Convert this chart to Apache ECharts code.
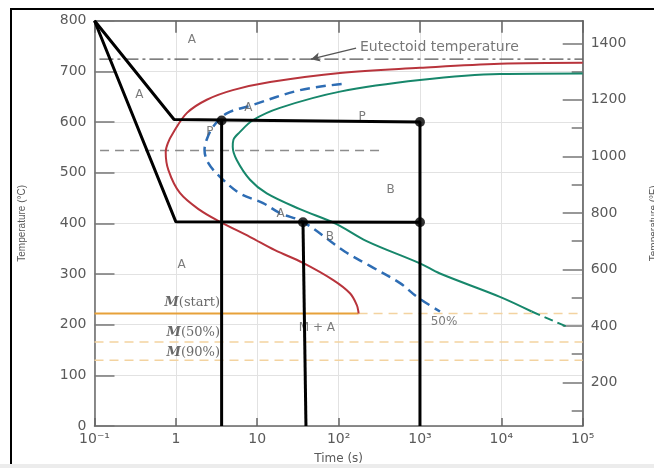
<!DOCTYPE html>
<html><head><meta charset="utf-8">
<script src="https://cdn.jsdelivr.net/npm/echarts@6/dist/echarts.min.js"></script>
<style>html,body{margin:0;padding:0;background:#fff}#c{width:654px;height:468px}</style>
</head><body><div id="c"></div>
<script>
// ---- data (time in s, temperature in °C unless noted) ----
const timeTicks = [0.1, 1, 10, 100, 1000, 10000, 100000];
const tempTicksC = [0, 100, 200, 300, 400, 500, 600, 700, 800];
const tempTicksF = [200, 400, 600, 800, 1000, 1200, 1400];
const tempMinorF = [100, 300, 500, 700, 900, 1100, 1300];

// start of transformation (red)
const startCurve = [[100000,717],[9600,715],[1000,707],[104,697],[14.4,679],[5.0,663],[2.4,644],[1.37,618],[0.92,578],[0.80,559],[0.75,541],[0.81,505],[1.12,460],[1.98,426],[3.5,403],[8.2,373],[16.5,347],[36.5,322],[86,288],[138,262],[167,239],[175,226],[176,222]];
// end of transformation (green)
const finishCurve = [[100000,696],[9600,695],[1000,683],[104,660],[19,628],[8.9,604],[6.1,580],[5.1,565],[5.0,551],[5.6,525],[8.15,486],[13.1,459],[33.5,428],[93,399],[221,365],[1000,321],[1760,301],[9600,255],[23600,226]];
const finishCurveExtrap = [[23600,226],[61800,197]];
// 50% completion (blue dashed)
const halfCurve = [[109,675],[33.6,663],[8.15,632],[4.22,617],[2.88,591],[2.39,565],[2.25,545],[2.51,519],[3.48,492],[6.14,459],[11.8,440],[19.1,420],[36.5,403],[120,344],[243,316],[569,282],[918,255],[1762,226]];
const noseLine = [[0.117,544],[372,544]];
const eutectoidLine = [[0.115,724],[100000,724]];
const eutectoidArrow = [[164,746],[45.8,724]];
const mStart = 222, m50 = 166, m90 = 130, mStartEndTime = 176;
// cooling paths (black)
const pathUpper = [[0.1,800],[0.95,605],[1000,600],[1000,0]];
const pathLower = [[0.1,800],[1,403],[1000,402]];
const dropA = [[3.65,603],[3.65,0]];
const dropB = [[36.5,402],[39.7,0]];
const dots = [[3.65,603],[1000,600],[36.5,402],[1000,402]];
// text annotations [text, time, temp]
const regionLabels = [['A',1.57,762],['A',0.356,653],['P',2.62,581],['A',7.76,627],['P',195,611],['B',437,467],['A',19.4,418],['B',78.3,374],['A',1.18,319],['M + A',54.2,193],['50%',1972,206]];
const mLabels = [['start',3.59,243],['50%',3.59,184],['90%',3.59,145]];
const eutectoidText = ['Eutectoid temperature',183,748];

const supDigits = {'-':'\u207B','0':'\u2070','1':'\u00B9','2':'\u00B2','3':'\u00B3','4':'\u2074','5':'\u2075'};
function fmtTime(v){
  const e = Math.round(Math.log10(v));
  if (e === 0) return '1';
  if (e === 1) return '10';
  return '10' + String(e).split('').map(c => supDigits[c]).join('');
}

const labelColor = '#5a5a5a';
const chart = echarts.init(document.getElementById('c'), null, {renderer:'canvas'});
const lineBase = {type:'line', symbol:'none', smooth:false, silent:true, animation:false};

const option = {
  animation:false,
  backgroundColor:'#fff',
  textStyle:{fontFamily:'DejaVu Sans'},
  grid:{left:94.5, right:71.3, top:20.7, bottom:42, containLabel:false, outerBoundsMode:'none'},
  xAxis:[{
    type:'log', logBase:10, min:0.1, max:100000, position:'bottom',
    name:'Time (s)', nameLocation:'middle', nameGap:27,
    nameTextStyle:{color:labelColor, fontSize:12},
    axisLine:{show:true, lineStyle:{color:'#666', width:1.5}},
    axisTick:{show:true, inside:true, length:8, lineStyle:{color:'#666', width:1.5}},
    axisLabel:{color:labelColor, fontSize:14, margin:6, formatter:fmtTime, customValues: timeTicks},
    minorTick:{show:false},
    splitLine:{show:true, lineStyle:{color:'#e2e2e2', width:1}}
  },{
    type:'log', logBase:10, min:0.1, max:100000, position:'top',
    axisLine:{show:true, lineStyle:{color:'#555', width:1.5}},
    axisTick:{show:true, inside:true, length:12, lineStyle:{color:'#666', width:1.5}},
    axisLabel:{show:false}, splitLine:{show:false}
  }],
  yAxis:[{
    type:'value', min:0, max:800, interval:100, position:'left',
    name:'Temperature (\u00B0C)', nameLocation:'middle', nameGap:67, nameRotate:90,
    nameTextStyle:{color:labelColor, fontSize:10, fontFamily:'Liberation Sans Narrow, Liberation Sans'},
    axisLine:{show:true, lineStyle:{color:'#666', width:1.5}},
    axisTick:{show:true, inside:true, length:20, lineStyle:{color:'#777', width:1.5}},
    axisLabel:{color:labelColor, fontSize:14, margin:8},
    splitLine:{show:true, lineStyle:{color:'#e2e2e2', width:1}}
  },{
    type:'value', min:46, max:1480, position:'right',
    name:'Temperature (\u00B0F)', nameLocation:'middle', nameGap:67, nameRotate:90,
    nameTextStyle:{color:labelColor, fontSize:10, fontFamily:'Liberation Sans Narrow, Liberation Sans'},
    axisLine:{show:true, lineStyle:{color:'#555', width:1.5}},
    axisTick:{show:true, inside:true, length:20, customValues: tempTicksF, lineStyle:{color:'#777', width:1.5}},
    axisLabel:{color:labelColor, fontSize:14, margin:8, customValues: tempTicksF, formatter: v => String(v)},
    splitLine:{show:false}
  },{
    type:'value', min:46, max:1480, position:'right',
    axisLine:{show:false},
    axisTick:{show:true, inside:true, length:11, customValues: tempMinorF, lineStyle:{color:'#777', width:1.5}},
    axisLabel:{show:false}, splitLine:{show:false}
  }],
  graphic:[
    {type:'rect', z:100, shape:{x:11, y:9, width:660, height:470}, style:{fill:'none', stroke:'#000', lineWidth:2}},
    {type:'rect', z:101, shape:{x:0, y:464, width:654, height:4}, style:{fill:'#ececec'}}
  ],
  series:[
    Object.assign({}, lineBase, {name:'eutectoid', data:eutectoidLine, z:3,
      lineStyle:{color:'#555', width:1.2, type:[14,4,3,4]},
      markLine:{silent:true, symbol:['none','arrow'], symbolSize:[7,9], animation:false,
        label:{show:false}, lineStyle:{color:'#555', width:1.2, type:'solid'},
        data:[[{coord:eutectoidArrow[0]},{coord:eutectoidArrow[1]}]]}}),
    Object.assign({}, lineBase, {name:'nose', data:noseLine, z:3,
      lineStyle:{color:'#8c8c8c', width:1.5, type:[9,6]}}),
    Object.assign({}, lineBase, {name:'Ms solid', data:[[0.1,mStart],[mStartEndTime,mStart]], z:3,
      lineStyle:{color:'#e7a13a', width:2}}),
    Object.assign({}, lineBase, {name:'Ms dash', data:[[mStartEndTime,mStart],[100000,mStart]], z:3,
      lineStyle:{color:'#f3d3a0', width:1.5, type:[9,6]}}),
    Object.assign({}, lineBase, {name:'M50', data:[[0.1,m50],[100000,m50]], z:3,
      lineStyle:{color:'#f3d3a0', width:1.5, type:[9,6]}}),
    Object.assign({}, lineBase, {name:'M90', data:[[0.1,m90],[100000,m90]], z:3,
      lineStyle:{color:'#f3d3a0', width:1.5, type:[9,6]}}),
    Object.assign({}, lineBase, {name:'start', data:startCurve, smooth:0.35, z:4,
      lineStyle:{color:'#b8343c', width:2}}),
    Object.assign({}, lineBase, {name:'finish', data:finishCurve, smooth:0.35, z:4,
      lineStyle:{color:'#17876b', width:2}}),
    Object.assign({}, lineBase, {name:'finish extrap', data:finishCurveExtrap, z:4,
      lineStyle:{color:'#17876b', width:2, type:[9,5]}}),
    Object.assign({}, lineBase, {name:'half', data:halfCurve, smooth:0.35, z:4,
      lineStyle:{color:'#2e6db4', width:2.5, type:[10,6]}}),
    {type:'scatter', name:'labels', silent:true, symbolSize:0, z:5,
      data: regionLabels.map(d => ({value:[d[1],d[2]], name:d[0]})),
      label:{show:true, position:'inside', color:labelColor, fontSize:12, formatter:p => p.name}},
    {type:'scatter', name:'mlabels', silent:true, symbolSize:0, z:5,
      data: mLabels.map(d => ({value:[d[1],d[2]], name:d[0]})),
      label:{show:true, position:'left', distance:1, color:'#444', fontSize:13, fontFamily:'DejaVu Serif',
        formatter:p => '{m|M}{n|(' + p.name + ')}',
        rich:{m:{fontFamily:'DejaVu Serif', fontStyle:'italic', fontWeight:'bold', fontSize:13, color:'#444'},
              n:{fontFamily:'DejaVu Serif', fontSize:13, color:'#444'}}}},
    {type:'scatter', name:'eutectoid text', silent:true, symbolSize:0, z:5,
      data:[{value:[eutectoidText[1],eutectoidText[2]], name:eutectoidText[0]}],
      label:{show:true, position:'right', distance:0, color:'#555', fontSize:14, formatter:p => p.name}},
    Object.assign({}, lineBase, {name:'pathUpper', data:pathUpper, z:6, lineStyle:{color:'#000', width:3}}),
    Object.assign({}, lineBase, {name:'pathLower', data:pathLower, z:6, lineStyle:{color:'#000', width:3}}),
    Object.assign({}, lineBase, {name:'dropA', data:dropA, z:6, lineStyle:{color:'#000', width:3}}),
    Object.assign({}, lineBase, {name:'dropB', data:dropB, z:6, lineStyle:{color:'#000', width:3}}),
    {type:'scatter', name:'dots', silent:true, data:dots, symbol:'circle', symbolSize:10, z:7,
      itemStyle:{color:'#000'}}
  ]
};
chart.setOption(option);
</script>
</body></html>
